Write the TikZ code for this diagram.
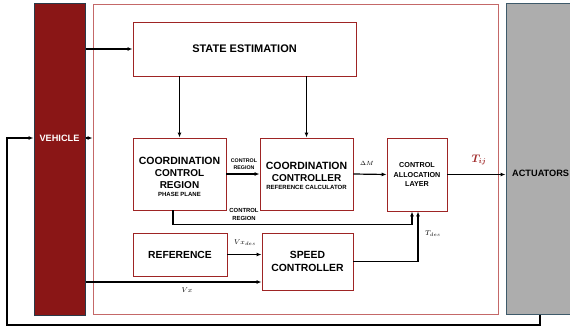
\documentclass[tikz,border=0pt]{standalone}
\usepackage{amsmath}
\usepackage{fontspec}
\setsansfont{Liberation Sans}
\usetikzlibrary{arrows.meta,calc}
\definecolor{vehred}{RGB}{138,22,22}
\definecolor{vehedge}{RGB}{42,58,72}
\definecolor{actgray}{RGB}{173,173,173}
\definecolor{actedge}{RGB}{62,90,106}
\definecolor{boxred}{RGB}{158,36,36}
\definecolor{frame}{RGB}{196,104,104}
\definecolor{tijred}{RGB}{160,40,40}
\newcommand{\fsz}[1]{\fontsize{#1}{#1}\selectfont}
\begin{document}
\begin{tikzpicture}[x=1pt,y=-1pt,
  block/.style={draw=boxred,line width=0.9pt,fill=white,inner sep=0pt,align=center,font=\sffamily\bfseries},
  arr/.style={line width=1.2pt,-{Latex[length=5pt,width=4pt]}},
  tag/.style={inner sep=0pt,align=center,font=\sffamily\bfseries},
  sig/.style={inner sep=0pt}
]
\useasboundingbox (0,0) rectangle (570,329);

% frames
\node[draw=frame,line width=0.9pt,fill=white,minimum width=405,minimum height=310,inner sep=0pt] (mainbox) at (295.5,159) {};
\node[draw=vehedge,fill=vehred,line width=1pt,minimum width=51,minimum height=311,inner sep=0pt] (veh) at (59.5,159.5) {};
\node[tag,text=white,font=\sffamily\bfseries\fsz{9.2}] (vehlabel) at (59.5,138) {VEHICLE};
\node[draw=actedge,fill=actgray,line width=1pt,minimum width=68,minimum height=310,inner sep=0pt] (act) at (540,159) {};
\node[tag,anchor=west,font=\sffamily\bfseries\fsz{9.2}] (actlabel) at (512,173) {ACTUATORS};

% blocks
\node[block,minimum width=223,minimum height=54,font=\sffamily\bfseries\fsz{11}] (se) at (244.5,49) {STATE ESTIMATION};
\node[block,minimum width=93,minimum height=72] (ccr) at (179.5,174)
  {\fontsize{10.5}{13.5}\selectfont\rule{0pt}{14pt}COORDINATION\\CONTROL\\REGION\\[-4pt]\fontsize{6}{7}\selectfont PHASE PLANE};
\node[block,minimum width=93,minimum height=72] (cc) at (306.5,174)
  {\fontsize{10.5}{14}\selectfont\rule{0pt}{11pt}COORDINATION\\CONTROLLER\\[-4pt]\fontsize{6.05}{7}\selectfont REFERENCE CALCULATOR};
\node[block,minimum width=60,minimum height=73,font=\sffamily\bfseries\fontsize{7.2}{9.5}\selectfont] (cal) at (417,174.5)
  {CONTROL\\ALLOCATION\\LAYER};
\node[block,minimum width=94,minimum height=43,font=\sffamily\bfseries\fsz{10.3}] (ref) at (180,254.5) {REFERENCE};
\node[block,minimum width=91,minimum height=57,font=\sffamily\bfseries\fontsize{10.4}{13.5}\selectfont] (sc) at (307.5,261.5)
  {SPEED\\CONTROLLER};

% helper points
\coordinate (vxin) at ($(sc.west)+(0,20.5)$);
\coordinate (fbcorner) at (7,325);

% connectors
\draw[arr] (veh.east |- se.west) -- (se.west);
\draw[arr] (se.south -| ccr.north) -- (ccr.north);
\draw[arr] (se.south -| cc.north) -- (cc.north);
\draw[arr] (veh.east |- vehlabel) -- (mainbox.west |- vehlabel);
\draw[arr] (ccr.east) -- (cc.west);
\draw[arr] (cc.east) -- (cal.west);
\draw[arr] (cal.east) -- (act.west |- cal.east);
\draw[arr] ([xshift=-6.5pt]ccr.south) -- ++(0,14) -| ([xshift=-5pt]cal.south);
\draw[arr] (ref.east) -- (sc.west |- ref.east);
\draw[arr] (veh.east |- vxin) -- (vxin);
\draw[arr] (sc.east) -| ([xshift=1pt]cal.south);
\draw[arr] (act.south) |- (fbcorner) |- (veh.west |- vehlabel);

% signal labels
\node[tag,font=\sffamily\bfseries\fontsize{5.3}{6.5}\selectfont] (crtop) at (244,164) {CONTROL\\REGION};
\node[tag,font=\sffamily\bfseries\fontsize{5.9}{8}\selectfont] (crbot) at (244,214) {CONTROL\\REGION};
\node[sig,font=\fsz{6.5}] (dm) at (367,163) {$\Delta M$};
\node[sig,font=\fsz{10.5},text=tijred] (tij) at (479,160) {$\boldsymbol{T_{ij}}$};
\node[sig,font=\fsz{7}] (vxdes) at (245,243) {$Vx_{des}$};
\node[sig,font=\fsz{7}] (vx) at (187,290) {$Vx$};
\node[sig,font=\fsz{7}] (tdes) at (433,234) {$T_{des}$};
\end{tikzpicture}
\end{document}
